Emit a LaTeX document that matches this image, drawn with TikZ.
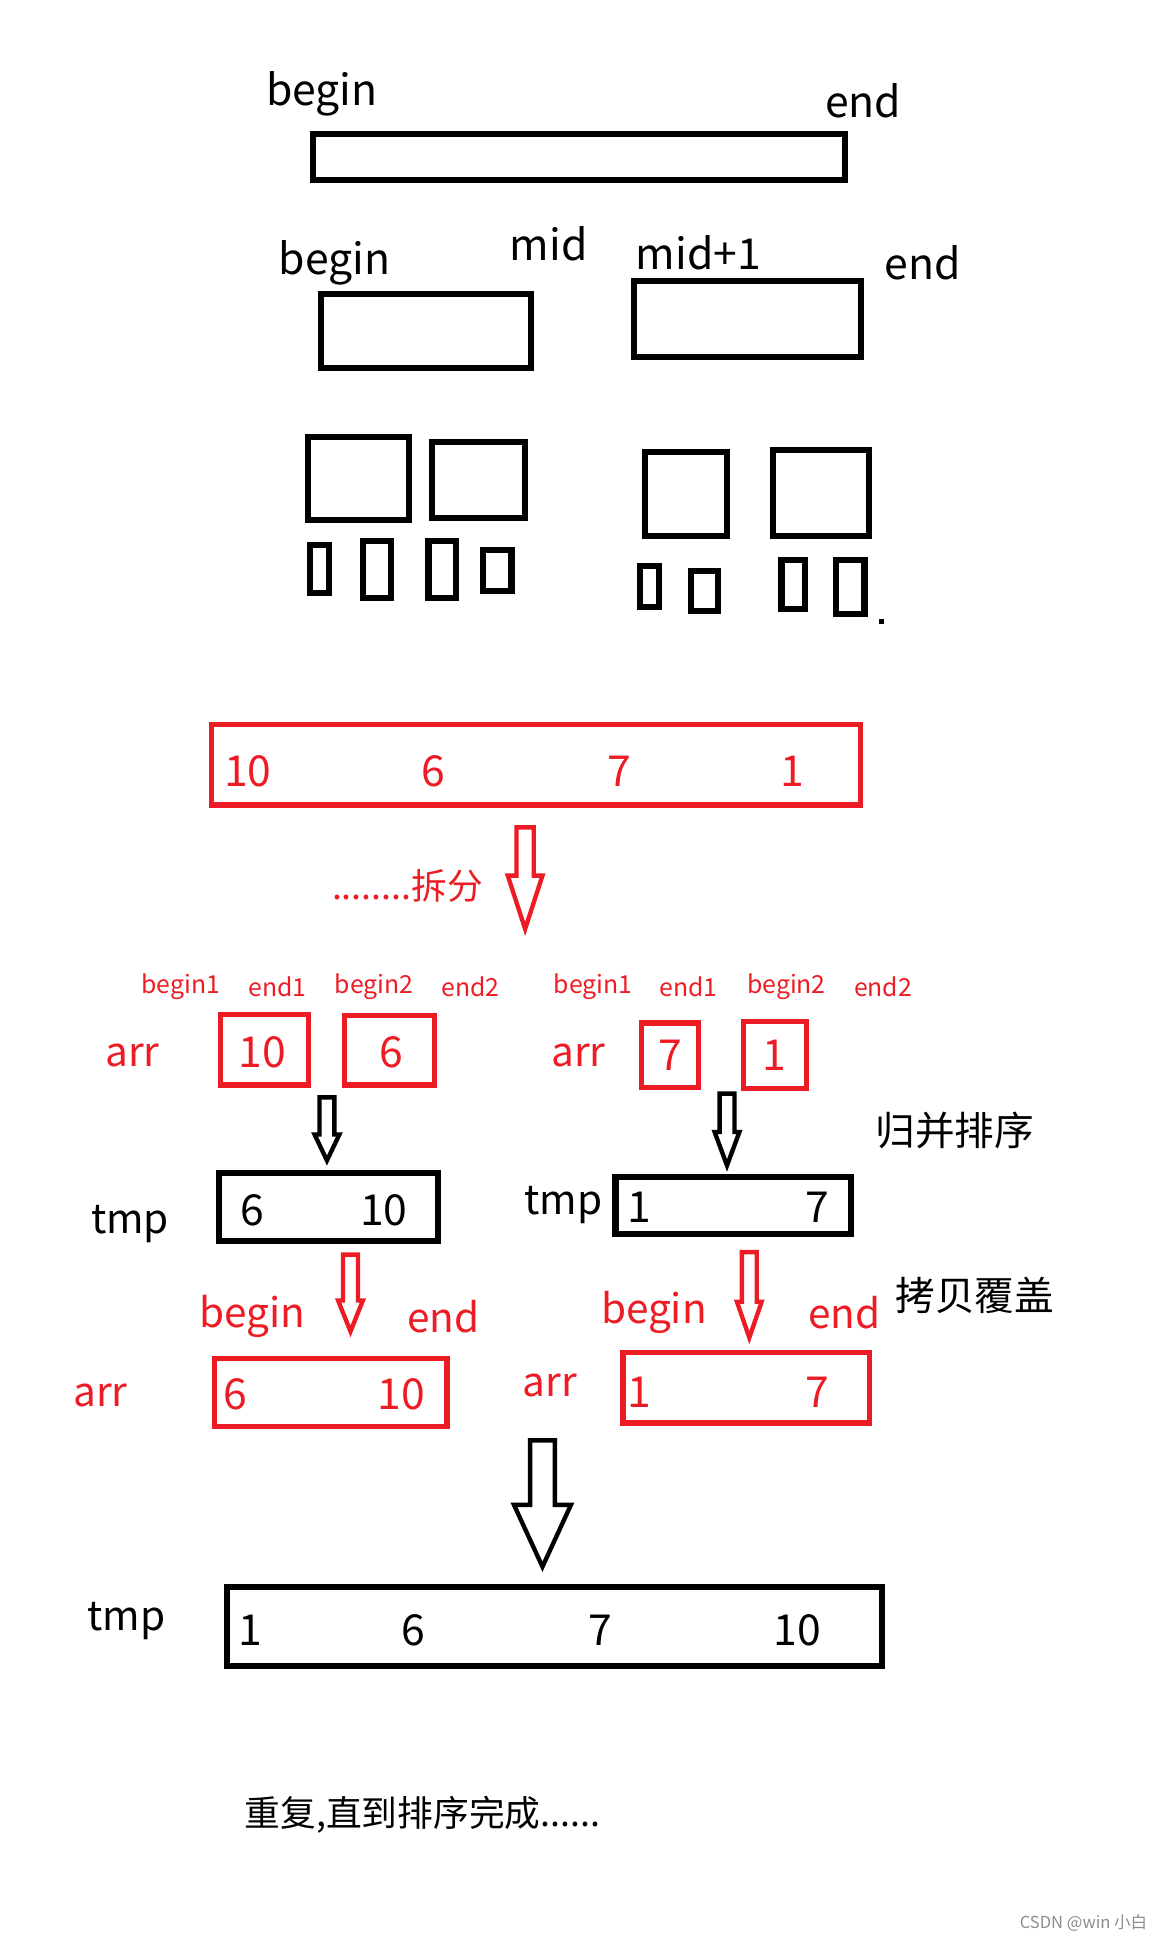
\documentclass[tikz,border=0pt]{standalone}
\usepackage{fontspec}
\setmainfont{Noto Sans CJK SC}
\usetikzlibrary{positioning}
\definecolor{paintred}{RGB}{237,28,36}

\begin{document}
\begin{tikzpicture}[x=0.01cm, y=-0.01cm,
    lbl/.style={inner sep=0pt, font=\fontsize{9.8}{12}\selectfont},
    num/.style={inner sep=0pt, font=\fontsize{9.8}{12}\selectfont},
    word/.style={inner sep=0pt, text=paintred, font=\fontsize{9.3}{11}\selectfont},
    idx/.style={inner sep=0pt, text=paintred, font=\fontsize{5.7}{7}\selectfont},
    note/.style={inner sep=0pt, font=\fontsize{9.1}{11}\selectfont},
    blackbox/.style={draw, line width=1.4pt},
    redbox/.style={draw=paintred, line width=1.2pt},
    blockarrow/.style={line width=1pt, line join=miter}]

    \useasboundingbox (0,0) rectangle (939,1568);

    % whole array
    \draw[blackbox] (253,108) rectangle (682,145);
    \node[lbl] (beginA) at (260,76) {begin};
    \node[lbl] (endA) at (697,81) {end};

    % first split
    \draw[blackbox] (259,237) rectangle (429,297);
    \draw[blackbox] (512,227) rectangle (695,288);
    \node[lbl] (beginB) at (270,212) {begin};
    \node[lbl] (midB) at (443,197) {mid};
    \node[lbl] (midoneB) at (564,204) {mid+1};
    \node[lbl] (endB) at (745,212) {end};

    % second split
    \draw[blackbox] (249,353) rectangle (330,420);
    \draw[blackbox] (349,357) rectangle (424,418);
    \draw[blackbox] (521,365) rectangle (587,433);
    \draw[blackbox] (624,363) rectangle (702,433);

    % single elements
    \draw[blackbox] (250,440) rectangle (266,479);
    \draw[blackbox] (293,437) rectangle (316,483);
    \draw[blackbox] (346,437) rectangle (368,483);
    \draw[blackbox] (390,444) rectangle (413,477);
    \draw[blackbox] (517,457) rectangle (532,490);
    \draw[blackbox] (558,461) rectangle (580,493);
    \draw[blackbox] (631,452) rectangle (650,492);
    \draw[blackbox] (675,452) rectangle (698,496);
    \fill (710,500) rectangle (714,504);

    % example array
    \draw[redbox] (171,585) rectangle (695,650);
    \node[num, text=paintred] (numA) at (200,623) {10};
    \node[num, text=paintred] (numB) at (350,623) {6};
    \node[num, text=paintred] (numC) at (500,623) {7};
    \node[num, text=paintred] (numD) at (640,623) {1};

    % split arrow
    \draw[blockarrow, paintred] (417,668) -- (431,668) -- (431,707) -- (438,707)
        -- (424,750) -- (410,707) -- (417,707) -- cycle;
    \node[inner sep=0pt, text=paintred, font=\fontsize{8.2}{10}\selectfont]
        (split) at (329,715) {........拆分};

    % left pair
    \node[idx] (lbeginone) at (146,797) {begin1};
    \node[idx] (lendone) at (224,797) {end1};
    \node[idx] (lbegintwo) at (302,797) {begin2};
    \node[idx] (lendtwo) at (380,797) {end2};
    \node[word] (larr) at (107,852) {arr};
    \draw[redbox] (178,819) rectangle (249,876);
    \draw[redbox] (278,820) rectangle (351,876);
    \node[num, text=paintred] (lten) at (212,850) {10};
    \node[num, text=paintred] (lsix) at (316,850) {6};

    % right pair
    \node[idx] (rbeginone) at (479,797) {begin1};
    \node[idx] (rendone) at (556,797) {end1};
    \node[idx] (rbegintwo) at (635,797) {begin2};
    \node[idx] (rendtwo) at (713,797) {end2};
    \node[word] (rarr) at (467,852) {arr};
    \draw[redbox] (518,826) rectangle (564,878);
    \draw[redbox] (600,825) rectangle (651,879);
    \node[num, text=paintred] (rseven) at (541,852) {7};
    \node[num, text=paintred] (rone) at (625,852) {1};

    % merge
    \draw[blockarrow] (258,886) -- (270,886) -- (270,916) -- (274,916)
        -- (264,937) -- (254,916) -- (258,916) -- cycle;
    \draw[blockarrow] (581,883) -- (593,883) -- (593,914) -- (597,914)
        -- (587,941) -- (577,914) -- (581,914) -- cycle;
    \node[note] (merge) at (771,913) {归并排序};

    \node[word, text=black] (ltmp) at (105,988) {tmp};
    \draw[blackbox] (177,947) rectangle (354,1002);
    \node[num] (ltmpa) at (204,977) {6};
    \node[num] (ltmpb) at (310,977) {10};

    \node[word, text=black] (rtmp) at (455,973) {tmp};
    \draw[blackbox] (497,950) rectangle (687,996);
    \node[num] (rtmpa) at (516,975) {1};
    \node[num] (rtmpb) at (660,975) {7};

    % copy back
    \draw[blockarrow, paintred] (277,1013) -- (289,1013) -- (289,1050) -- (293,1050)
        -- (283,1075) -- (273,1050) -- (277,1050) -- cycle;
    \draw[blockarrow, paintred] (599,1011) -- (611,1011) -- (611,1051) -- (615,1051)
        -- (605,1080) -- (595,1051) -- (599,1051) -- cycle;
    \node[note] (copy) at (787,1046) {拷贝覆盖};

    \node[word] (lbegin) at (204,1063) {begin};
    \node[word] (lend) at (358,1063) {end};
    \node[word] (larrb) at (81,1127) {arr};
    \draw[redbox] (173,1097) rectangle (361,1152);
    \node[num, text=paintred] (larra) at (190,1126) {6};
    \node[num, text=paintred] (larrc) at (324,1126) {10};

    \node[word] (rbegin) at (528,1060) {begin};
    \node[word] (rend) at (682,1060) {end};
    \node[word] (rarrb) at (444,1119) {arr};
    \draw[redbox] (503,1092) rectangle (702,1149);
    \node[num, text=paintred] (rarra) at (516,1124) {1};
    \node[num, text=paintred] (rarrc) at (660,1124) {7};

    % final merge
    \draw[blockarrow] (428,1163) -- (448,1163) -- (448,1215) -- (461,1215)
        -- (438,1265) -- (415,1215) -- (428,1215) -- cycle;
    \node[word, text=black] (tmp) at (102,1309) {tmp};
    \draw[blackbox] (183,1281) rectangle (712,1345);
    \node[num] (tmpa) at (202,1316) {1};
    \node[num] (tmpb) at (334,1316) {6};
    \node[num] (tmpc) at (485,1316) {7};
    \node[num] (tmpd) at (644,1316) {10};

    \node[inner sep=0pt, anchor=west, font=\fontsize{8.2}{10}\selectfont]
        (repeat) at (197,1465) {重复,直到排序完成......};
    \node[inner sep=0pt, anchor=east, text=black!45, font=\fontsize{3.8}{4}\selectfont]
        (mark) at (927,1553) {CSDN @win 小白};

\end{tikzpicture}
\end{document}
